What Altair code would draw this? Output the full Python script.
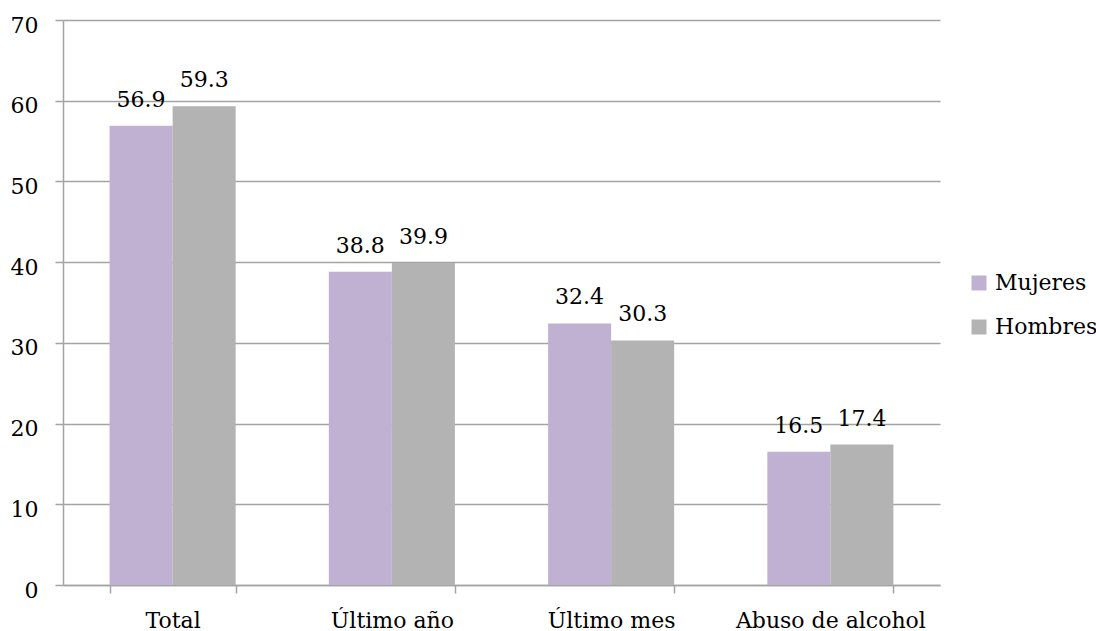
import altair as alt
import pandas as pd

categories = ["Total", "Último año", "Último mes", "Abuso de alcohol"]
series = ["Mujeres", "Hombres"]
mujeres = [56.9, 38.8, 32.4, 16.5]
hombres = [59.3, 39.9, 30.3, 17.4]
colors = ["#C0B1D3", "#B3B3B3"]

rows = []
for c, m, h in zip(categories, mujeres, hombres):
    rows.append({"cat": c, "serie": "Mujeres", "val": m, "lab": f"{m:.1f}"})
    rows.append({"cat": c, "serie": "Hombres", "val": h, "lab": f"{h:.1f}"})
df = pd.DataFrame(rows)

FONT = "DejaVu Serif"
FS = 22
LINE = "#A3A3A3"

x = alt.X("cat:N", sort=categories, title=None,
          scale=alt.Scale(paddingInner=0.425, paddingOuter=0.2125),
          axis=alt.Axis(labelAngle=0, tickBand="extent", labelFontSize=FS, labelFont=FONT,
                        labelColor="#000000", domainColor=LINE, tickColor=LINE, labelLimit=0,
                        tickSize=8, domainWidth=1.5, tickWidth=1.5, labelPadding=17, grid=False))
y = alt.Y("val:Q", title=None,
          scale=alt.Scale(domain=[0, 70], nice=False),
          axis=alt.Axis(values=list(range(0, 71, 10)), labelFontSize=FS, labelFont=FONT,
                        labelColor="#000000", grid=True, gridColor=LINE, gridWidth=1.5,
                        domainColor=LINE, domainWidth=1.5, tickColor=LINE,
                        tickWidth=1.5, tickSize=8, labelPadding=17, labelOffset=5))
xoff = alt.XOffset("serie:N", sort=series)

bars = alt.Chart(df).mark_bar().encode(
    x=x, y=y, xOffset=xoff,
    color=alt.Color("serie:N", sort=series, title=None,
                    scale=alt.Scale(domain=series, range=colors),
                    legend=alt.Legend(orient="none", legendX=905, legendY=252, padding=0,
                                      symbolType="square", symbolSize=225, symbolStrokeWidth=0,
                                      labelFontSize=FS, labelFont=FONT, labelColor="#000000",
                                      rowPadding=22, labelOffset=5, labelLimit=0)),
)

text = alt.Chart(df).mark_text(baseline="alphabetic", dy=-19, fontSize=FS, font=FONT, color="#000000").encode(
    x=x, y=y, xOffset=xoff, text="lab:N"
)

chart = (bars + text).properties(
    width=877, height=565,
    autosize=alt.AutoSizeParams(type="none"),
    padding={"left": 63, "top": 20, "right": 156, "bottom": 46},
    background="#FFFFFF",
).configure_view(stroke=None, strokeWidth=0)

chart.save("out.html", embed_options={"renderer": "svg", "actions": False})
